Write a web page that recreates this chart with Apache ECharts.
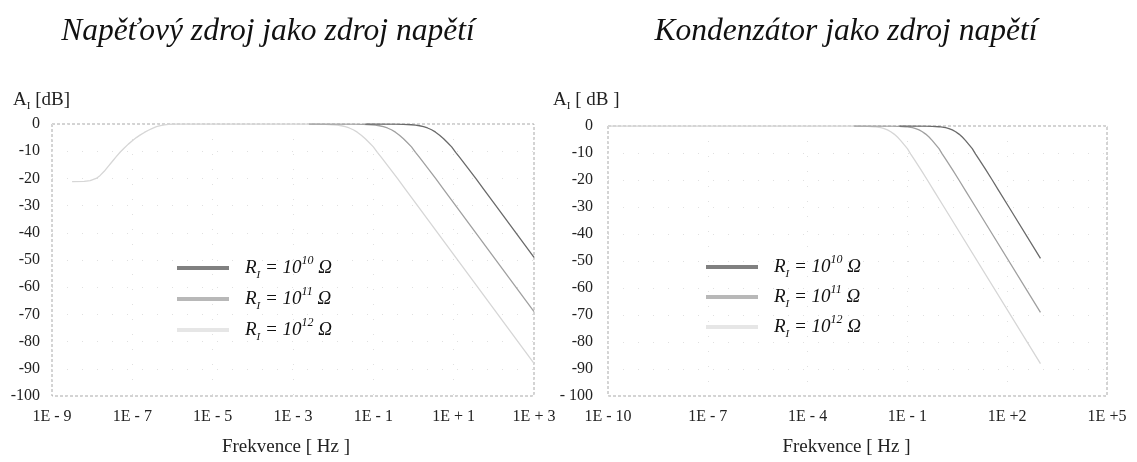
<!DOCTYPE html>
<html>
<head>
<meta charset="utf-8">
<script src="https://cdn.jsdelivr.net/npm/echarts@6/dist/echarts.min.js"></script>
<style>
html,body{margin:0;padding:0;background:#fff;}
#chart{width:1137px;height:462px;}
</style>
</head>
<body>
<div id="chart"></div>
<script>
// ---- Data (x = log10 of frequency in Hz, y = A_I in dB) ----
const titles = ['Napěťový zdroj jako zdroj napětí', 'Kondenzátor jako zdroj napětí'];
const yAxisNames = ['{a|A}{s|I}{a| [dB]}', '{a|A}{s|I}{a| [ dB ]}'];
const xAxisName = 'Frekvence [ Hz ]';
const seriesNames = ['R10', 'R11', 'R12'];
const legendExponents = ['10', '11', '12'];

const leftXTicks = ['1E - 9', '1E - 7', '1E - 5', '1E - 3', '1E - 1', '1E + 1', '1E + 3'];
const rightXTicks = ['1E - 10', '1E - 7', '1E - 4', '1E - 1', '1E +2', '1E +5'];
const leftYTicks = ['-100', '-90', '-80', '-70', '-60', '-50', '-40', '-30', '-20', '-10', '0'];
const rightYTicks = ['- 100', '-90', '-80', '-70', '-60', '-50', '-40', '-30', '-20', '-10', '0'];

// Napěťový zdroj
const voltR10 = [[-1.2,0],[-0.45,-0.04],[-0.25,-0.11],[-0.05,-0.27],[0.05,-0.41],[0.15,-0.64],[0.25,-0.97],[0.35,-1.46],[0.45,-2.12],[0.55,-3],[0.65,-4.1],[0.75,-5.4],[0.85,-6.9],[0.95,-8.4],[1.05,-10.4],[1.15,-12.3],[1.35,-16.1],[1.55,-20],[1.75,-24],[2.05,-30],[3,-49]];
const voltR11 = [[-2.6,0],[-1.45,-0.04],[-1.25,-0.11],[-1.05,-0.27],[-0.95,-0.41],[-0.85,-0.64],[-0.75,-0.97],[-0.65,-1.46],[-0.55,-2.12],[-0.45,-3],[-0.35,-4.1],[-0.25,-5.4],[-0.15,-6.9],[-0.05,-8.4],[0.05,-10.4],[0.15,-12.3],[0.35,-16.1],[0.55,-20],[0.75,-24],[1.05,-30],[3,-69]];
const voltR12 = [[-8.5,-21.2],[-8.2,-21.1],[-8.05,-20.8],[-7.9,-20],[-7.8,-18.9],[-7.7,-17.4],[-7.6,-15.6],[-7.5,-13.8],[-7.4,-12],[-7.3,-10.3],[-7.2,-8.8],[-7.1,-7.4],[-7,-6.2],[-6.9,-5],[-6.8,-4],[-6.7,-3.1],[-6.6,-2.3],[-6.5,-1.6],[-6.4,-1],[-6.3,-0.6],[-6.2,-0.3],[-6.1,-0.1],[-5.9,0],[-2.5,0],[-2.4,-0.04],[-2.2,-0.11],[-2,-0.27],[-1.9,-0.41],[-1.8,-0.64],[-1.7,-0.97],[-1.6,-1.46],[-1.5,-2.12],[-1.4,-3],[-1.3,-4.1],[-1.2,-5.4],[-1.1,-6.9],[-1,-8.4],[-0.9,-10.4],[-0.8,-12.3],[-0.6,-16.1],[-0.4,-20],[-0.2,-24],[0.1,-30],[3,-88]];

// Kondenzátor
const capR10 = [[-1.24,0],[-0.45,-0.04],[-0.25,-0.11],[-0.05,-0.27],[0.05,-0.41],[0.15,-0.64],[0.25,-0.97],[0.35,-1.46],[0.45,-2.12],[0.55,-3],[0.65,-4.1],[0.75,-5.4],[0.85,-6.9],[0.95,-8.4],[1.05,-10.4],[1.15,-12.3],[1.35,-16.1],[1.55,-20],[1.75,-24],[2.05,-30],[3,-49]];
const capR11 = [[-2.6,0],[-1.45,-0.04],[-1.25,-0.11],[-1.05,-0.27],[-0.95,-0.41],[-0.85,-0.64],[-0.75,-0.97],[-0.65,-1.46],[-0.55,-2.12],[-0.45,-3],[-0.35,-4.1],[-0.25,-5.4],[-0.15,-6.9],[-0.05,-8.4],[0.05,-10.4],[0.15,-12.3],[0.35,-16.1],[0.55,-20],[0.75,-24],[1.05,-30],[3,-69]];
const capR12 = [[-10,0],[-2.5,0],[-2.4,-0.04],[-2.2,-0.11],[-2,-0.27],[-1.9,-0.41],[-1.8,-0.64],[-1.7,-0.97],[-1.6,-1.46],[-1.5,-2.12],[-1.4,-3],[-1.3,-4.1],[-1.2,-5.4],[-1.1,-6.9],[-1,-8.4],[-0.9,-10.4],[-0.8,-12.3],[-0.6,-16.1],[-0.4,-20],[-0.2,-24],[0.1,-30],[3,-88]];

// ---- Styles ----
const serif = 'Liberation Serif';
const lineColors = {R10: '#6a6a6a', R11: '#a0a0a0', R12: '#d6d6d6'};
const iconColors = {R10: '#808080', R11: '#b8b8b8', R12: '#e6e6e6'};

const chart = echarts.init(document.getElementById('chart'), null, {renderer: 'canvas'});

function xAxisCfg(gridIndex, min, max, interval, labels, namePad) {
  return {
    type: 'value', gridIndex, min, max, interval,
    axisLine: {show: false}, axisTick: {show: false},
    axisLabel: {
      color: '#222', fontFamily: serif, fontSize: 16, margin: 13,
      showMinLabel: true, showMaxLabel: true,
      formatter: v => labels[Math.round((v - min) / interval)] || ''
    },
    splitLine: {show: true, lineStyle: {color: '#e0e0e0', width: 1, type: [1, 14]}},
    name: xAxisName, nameLocation: 'middle', nameGap: 42, nameMoveOverlap: false,
    nameTextStyle: {color: '#222', fontFamily: serif, fontSize: 19, padding: namePad}
  };
}
function yAxisCfg(gridIndex, labels, margin) {
  return {
    type: 'value', gridIndex, min: -100, max: 0, interval: 10,
    axisLine: {show: false}, axisTick: {show: false},
    axisLabel: {
      color: '#222', fontFamily: serif, fontSize: 16, margin: margin,
      formatter: v => labels[Math.round((v + 100) / 10)] || ''
    },
    splitLine: {show: true, lineStyle: {color: '#e0e0e0', width: 1, type: [1, 14]}}
  };
}
function lineSeries(name, data, axisIndex) {
  return {
    type: 'line', name, data, xAxisIndex: axisIndex, yAxisIndex: axisIndex,
    showSymbol: false, symbol: 'none', smooth: false,
    color: iconColors[name],
    lineStyle: {color: lineColors[name], width: 1.3},
    silent: true, animation: false
  };
}
const richLegend = {
  r: {fontFamily: serif, fontStyle: 'italic', fontSize: 19, color: '#111', lineHeight: 26},
  s: {fontFamily: serif, fontStyle: 'italic', fontSize: 11, color: '#111', verticalAlign: 'bottom', lineHeight: 18},
  p: {fontFamily: serif, fontStyle: 'italic', fontSize: 12, color: '#111', verticalAlign: 'top', lineHeight: 13}
};
function legendCfg(left, top, gap) {
  return {
    orient: 'vertical', left, top, itemGap: gap, padding: 0,
    icon: 'rect', itemWidth: 52, itemHeight: 4, selectedMode: false,
    data: seriesNames.map(n => ({name: n, itemStyle: {color: iconColors[n], borderWidth: 0}})),
    formatter: n => '{r|R}{s|I}{r| = 10}{p|' + legendExponents[seriesNames.indexOf(n)] + '}{r| Ω}',
    textStyle: {rich: richLegend, padding: [0, 0, 0, 11]}
  };
}
const richAxisName = {
  a: {fontFamily: serif, fontWeight: 'normal', fontSize: 19, color: '#222', lineHeight: 24},
  s: {fontFamily: serif, fontWeight: 'normal', fontSize: 11, color: '#222', verticalAlign: 'bottom', lineHeight: 17}
};
const titleStyle = {fontFamily: serif, fontStyle: 'italic', fontWeight: 'normal', fontSize: 31.5, color: '#111'};

const option = {
  backgroundColor: '#fff',
  animation: false,
  title: [
    {text: titles[0], left: 268, textAlign: 'center', top: 16, padding: 0, textStyle: titleStyle},
    {text: titles[1], left: 846, textAlign: 'center', top: 16, padding: 0, textStyle: titleStyle},
    {text: yAxisNames[0], left: 13, top: 88, padding: 0, textStyle: {fontWeight: 'normal', fontFamily: serif, rich: richAxisName}},
    {text: yAxisNames[1], left: 553, top: 88, padding: 0, textStyle: {fontWeight: 'normal', fontFamily: serif, rich: richAxisName}}
  ],
  grid: [
    {left: 52, top: 124, width: 482, height: 273, show: true, borderColor: '#a8a8a8', borderWidth: 1, borderType: [3, 2], backgroundColor: 'transparent'},
    {left: 608, top: 126, width: 499, height: 274, show: true, borderColor: '#a8a8a8', borderWidth: 1, borderType: [3, 2], backgroundColor: 'transparent'}
  ],
  xAxis: [
    xAxisCfg(0, -9, 3, 2, leftXTicks, [0, 14, 0, 0]),
    xAxisCfg(1, -10, 5, 3, rightXTicks, [0, 22, 0, 0])
  ],
  yAxis: [
    yAxisCfg(0, leftYTicks, 12),
    yAxisCfg(1, rightYTicks, 15)
  ],
  legend: [legendCfg(177, 255, 5), legendCfg(706, 254, 4)],
  series: [
    lineSeries('R12', voltR12, 0),
    lineSeries('R11', voltR11, 0),
    lineSeries('R10', voltR10, 0),
    lineSeries('R12', capR12, 1),
    lineSeries('R11', capR11, 1),
    lineSeries('R10', capR10, 1)
  ]
};
chart.setOption(option);
</script>
</body>
</html>
